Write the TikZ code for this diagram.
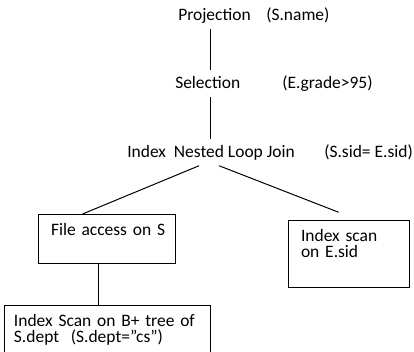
\documentclass[tikz,border=0pt]{standalone}
\usepackage{fontspec}
\setmainfont{Carlito}
\usetikzlibrary{positioning}
\tikzset{
  oplbl/.style   = {anchor=base west, inner xsep=0pt, inner ysep=3.75pt,
                    text height=9.75pt, text depth=2.6pt},
  arglbl/.style  = {anchor=base west, inner sep=0pt},
  planbox/.style = {draw, anchor=north west, align=left, line width=0.75pt,
                    text height=9pt, inner ysep=6.4pt},
  treeline/.style = {line width=0.75pt},
}

\begin{document}
\begin{tikzpicture}[x=0.75pt, y=-0.75pt,
  font=\fontsize{13.1pt}{12.6pt}\selectfont]
  \clip[use as bounding box] (0,0) rectangle (414,351);

  \node[oplbl]  (proj)    at (178,20)  {Projection};
  \node[arglbl] (projarg) at (266,20)  {(S.name)};
  \node[oplbl]  (sel)     at (175,88)  {Selection};
  \node[arglbl] (selarg)  at (282,88)  {(E.grade>95)};
  \node[oplbl]  (join)    at (127,157) {Index\ \ Nested Loop Join};
  \node[arglbl] (joinarg) at (324,157) {(S.sid= E.sid)};

  \node[planbox, inner xsep=9.4pt, minimum width=102.75pt,
        text width=84pt, text depth=14.95pt] (file) at (38,214) {\mbox{File access on S}};
  \node[planbox, inner xsep=9.4pt, minimum width=90.75pt,
        text width=72pt, text depth=28.45pt] (iscan) at (288,220) {Index scan\\on E.sid};
  \node[planbox, inner xsep=7.1pt, minimum width=154.5pt,
        text width=140.3pt, text depth=30pt] (btree) at (4,305)
        {Index Scan on B+ tree of\\S.dept\ \ (S.dept=”cs”)};

  \draw[treeline] ([xshift=-3pt]proj.south) -- ([xshift=-3pt]proj.south |- sel.north);
  \draw[treeline] ([xshift=2pt]sel.south) -- ([xshift=2pt]sel.south |- join.north);
  \draw[treeline] ([xshift=-9pt]join.south) -- ([xshift=-18.4pt]file.north);
  \draw[treeline, shorten >=16pt] ([xshift=6pt]join.south) -- ([xshift=7.1pt]iscan.north);
  \draw[treeline] ([xshift=-6.4pt]file.south) -- ([xshift=-6.4pt]file.south |- btree.north);
\end{tikzpicture}
\end{document}
